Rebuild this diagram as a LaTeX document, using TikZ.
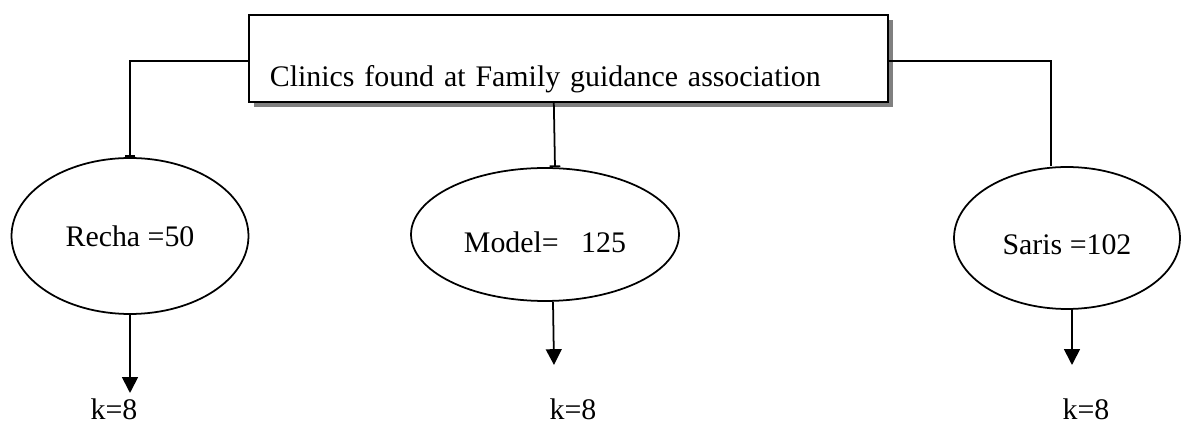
\documentclass[tikz,border=0pt]{standalone}
\usepackage{fontspec}
\setmainfont{Liberation Serif}
\usetikzlibrary{arrows.meta,shapes.geometric,shadows}
\definecolor{SHADOW}{HTML}{808080}

\begin{document}
\begin{tikzpicture}[x=0.02cm,y=-0.02cm,font=\fontsize{17}{20}\selectfont]
\tikzstyle{myEdge}=[draw=black,line width=1pt,>={Triangle[length=9pt,width=9pt]}]
\tikzstyle{clinic}=[draw=black,ellipse,inner sep=0pt,line width=1pt]
\tikzstyle{titlebox}=[draw=black,rectangle,fill=white,line width=1pt,inner xsep=0.42cm,inner ysep=0pt,
  text width=11.94cm,text height=1.44cm,text depth=0.3cm,align=left,
  drop shadow={shadow xshift=0.1cm,shadow yshift=-0.1cm,fill=SHADOW,opacity=1}]
\tikzstyle{count}=[inner sep=0pt,anchor=base]

\useasboundingbox (0,0) rectangle (1181,425);

\node[titlebox,anchor=north west] (title) at (248,14) {Clinics found at Family guidance association};

\node[clinic,minimum width=4.74cm,minimum height=3.12cm,text height=0.44cm] (recha) at (130,236) {Recha =50};
\node[clinic,minimum width=5.36cm,minimum height=2.66cm,text height=0.74cm] (model) at (545,234.5) {Model=\ \ \ 125};
\node[clinic,minimum width=4.52cm,minimum height=2.84cm,text height=0.68cm] (saris) at (1067,238) {Saris =102};

\foreach \name/\x in {recha/114,model/573,saris/1086}
    \node[count] (\name K) at (\x,420) {k=8};

% from the title down to the clinics
\draw[myEdge,-{Bar[width=6pt]}] ([yshift=-0.05cm]title.west) -| (recha.north);
\draw[myEdge,-{Bar[width=6pt]}] ([xshift=-0.29cm]title.south) -- ([xshift=0.2cm]model.north);
\draw[myEdge] ([yshift=-0.05cm]title.east) -| ([xshift=-0.32cm]saris.north);

% arrows under the clinics
\coordinate (rechaEnd) at (130,393);
\coordinate (modelEnd) at (554,365);
\coordinate (sarisEnd) at (1072,365);
\draw[myEdge,->] (recha.south) -- (rechaEnd);
\draw[myEdge,->] ([xshift=0.16cm]model.south) -- (modelEnd);
\draw[myEdge,->] ([xshift=0.1cm]saris.south) -- (sarisEnd);
\end{tikzpicture}
\end{document}
